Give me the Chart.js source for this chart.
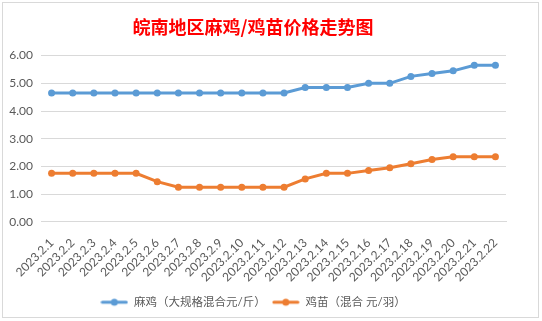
<!DOCTYPE html>
<html>
<head>
<meta charset="utf-8">
<script src="https://cdn.jsdelivr.net/npm/chart.js@4"></script>
<style>
  html, body { margin: 0; padding: 0; background: #fff; }
  #wrap { position: relative; width: 542px; height: 321px; }
  #frame { position: absolute; left: 2px; top: 2px; width: 537px; height: 316px; border: 1px solid #d9d9d9; box-sizing: border-box; pointer-events: none; }
</style>
</head>
<body>
<div id="wrap">
  <canvas id="priceChart" width="542" height="321"></canvas>
  <div id="frame"></div>
</div>
<script>
const dates = ['2023.2.1', '2023.2.2', '2023.2.3', '2023.2.4', '2023.2.5', '2023.2.6', '2023.2.7', '2023.2.8',
    '2023.2.9', '2023.2.10', '2023.2.11', '2023.2.12', '2023.2.13', '2023.2.14', '2023.2.15', '2023.2.16',
    '2023.2.17', '2023.2.18', '2023.2.19', '2023.2.20', '2023.2.21', '2023.2.22'];
const maJi = [4.65, 4.65, 4.65, 4.65, 4.65, 4.65, 4.65, 4.65, 4.65, 4.65, 4.65, 4.65,
    4.85, 4.85, 4.85, 5.0, 5.0, 5.25, 5.35, 5.45, 5.65, 5.65];
const jiMiao = [1.75, 1.75, 1.75, 1.75, 1.75, 1.45, 1.25, 1.25, 1.25, 1.25, 1.25, 1.25,
    1.55, 1.75, 1.75, 1.85, 1.95, 2.1, 2.25, 2.35, 2.35, 2.35];
const seriesNames = ['麻鸡（大规格混合元/斤）', '鸡苗（混合 元/羽）'];
const titleText = '皖南地区麻鸡/鸡苗价格走势图';

const blue = '#5B9BD5';
const orange = '#ED7D31';
const textColor = '#595959';
const fontFamily = "Lato, 'Noto Sans CJK SC', sans-serif";

// little line + dot icon used in the legend, like excel draws it
function legendIcon(color) {
    const c = document.createElement('canvas');
    c.width = 28;
    c.height = 10;
    const g = c.getContext('2d');
    g.strokeStyle = color;
    g.lineWidth = 3;
    g.lineCap = 'round';
    g.beginPath();
    g.moveTo(2, 5);
    g.lineTo(26, 5);
    g.stroke();
    g.fillStyle = color;
    g.beginPath();
    g.arc(14, 5, 3.5, 0, Math.PI * 2);
    g.fill();
    return c;
}

const ctx = document.getElementById('priceChart');

new Chart(ctx, {
    type: 'line',
    data: {
        labels: dates,
        datasets: [{
            label: seriesNames[0],
            data: maJi,
            borderColor: blue,
            backgroundColor: blue,
            borderWidth: 3,
            pointRadius: 3.5,
            pointBorderWidth: 0,
            pointHoverRadius: 3.5,
            tension: 0
        }, {
            label: seriesNames[1],
            data: jiMiao,
            borderColor: orange,
            backgroundColor: orange,
            borderWidth: 3,
            pointRadius: 3.5,
            pointBorderWidth: 0,
            pointHoverRadius: 3.5,
            tension: 0
        }]
    },
    options: {
        responsive: false,
        animation: false,
        layout: {
            padding: { left: 0, right: 36, top: 6, bottom: 3 }
        },
        plugins: {
            title: {
                display: true,
                text: titleText,
                color: '#FF0000',
                font: { family: "'Noto Sans CJK SC', sans-serif", size: 18, weight: 'bold' },
                padding: { top: 10, bottom: 18 }
            },
            legend: {
                position: 'bottom',
                labels: {
                    usePointStyle: true,
                    pointStyleWidth: 28,
                    padding: 6,
                    color: textColor,
                    font: { family: fontFamily, size: 11.5 },
                    generateLabels(chart) {
                        return chart.data.datasets.map((ds, i) => ({
                            text: ds.label,
                            fillStyle: ds.borderColor,
                            strokeStyle: ds.borderColor,
                            fontColor: textColor,
                            pointStyle: legendIcon(ds.borderColor),
                            datasetIndex: i,
                            hidden: false,
                            lineWidth: 0
                        }));
                    }
                }
            },
            tooltip: { enabled: false }
        },
        scales: {
            x: {
                offset: true,
                grid: { display: false },
                border: { display: true, color: '#d9d9d9' },
                ticks: {
                    autoSkip: false,
                    minRotation: 45,
                    maxRotation: 45,
                    padding: 6,
                    color: textColor,
                    font: { family: fontFamily, size: 12 }
                }
            },
            y: {
                min: 0,
                max: 6,
                grid: { color: '#d9d9d9', drawTicks: false },
                border: { display: false },
                ticks: {
                    stepSize: 1,
                    padding: 8,
                    color: textColor,
                    font: { family: fontFamily, size: 12 },
                    callback: (v) => v.toFixed(2)
                },
                afterFit(scale) {
                    scale.width = 41;
                }
            }
        }
    }
});
</script>
</body>
</html>
